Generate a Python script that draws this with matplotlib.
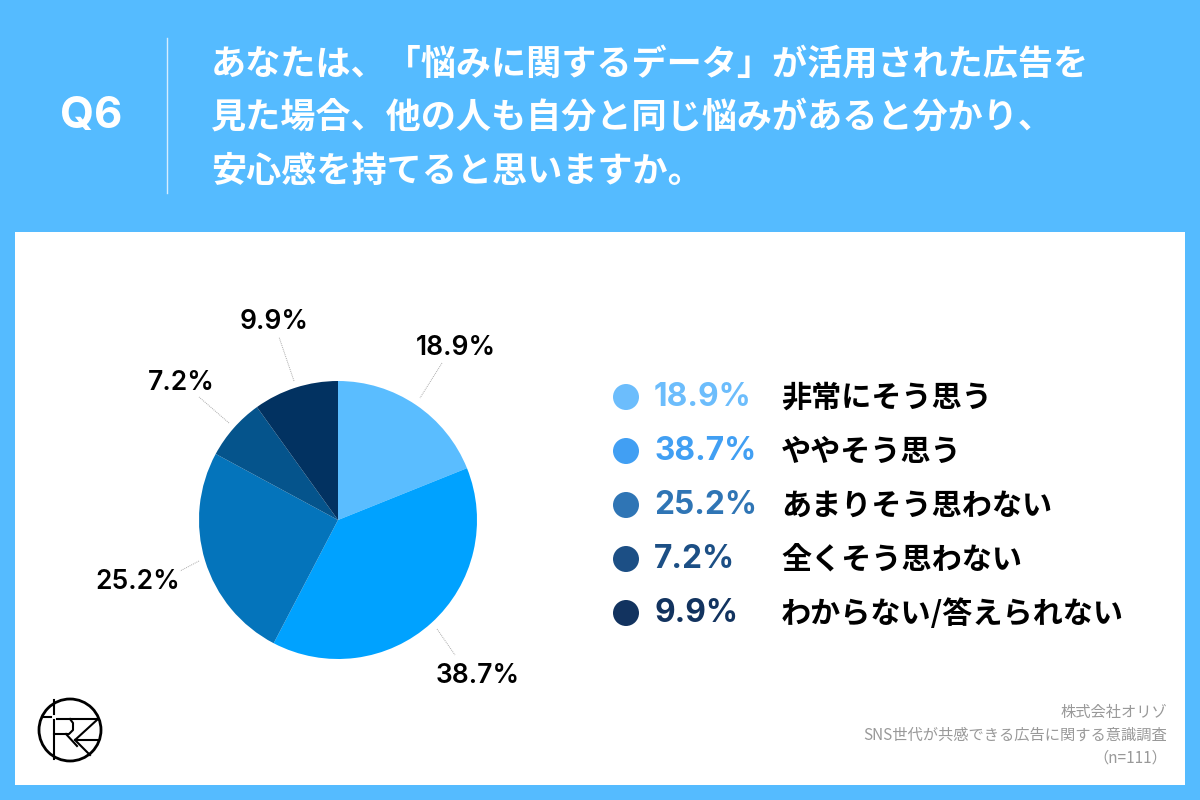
"""Q6 pie chart card: ad survey result with legend list and footer."""
import matplotlib
matplotlib.use("Agg")
import matplotlib.pyplot as plt
import matplotlib.patches as mpatches

CJK = ["Noto Sans CJK JP", "DejaVu Sans"]
H = 800

question_no = "Q6"
question_lines = [
    "あなたは、「悩みに関するデータ」が活用された広告を",
    "見た場合、他の人も自分と同じ悩みがあると分かり、",
    "安心感を持てると思いますか。",
]
categories = ["非常にそう思う", "ややそう思う", "あまりそう思わない", "全くそう思わない", "わからない/答えられない"]
values = [18.9, 38.7, 25.2, 7.2, 9.9]
footer_lines = ["株式会社オリゾ", "SNS世代が共感できる広告に関する意識調査", "（n=111）"]

BG = "#55BBFF"
pie_colors = ["#5ABDFF", "#00A2FF", "#0474BB", "#05548C", "#023261"]
legend_colors = ["#6CBDFC", "#419FF3", "#2F75B5", "#1C4F85", "#12335F"]

# label anchor (pixels) and leader start/end for each slice
label_pos = [(456, 348), (478, 676), (138, 582), (181, 383), (274, 322)]
leader_pos = [((442, 363), (420, 398)), ((437, 629), (455, 655)), ((199, 561), (180, 571)),
              ((229, 423), (199, 397)), ((294, 381), (279, 337))]


def py(y):
    return H - y


def main():
    fig = plt.figure(figsize=(12, 8), dpi=100, facecolor=BG)
    ax = fig.add_axes([0, 0, 1, 1])

    ax.add_patch(mpatches.Rectangle((15, py(785)), 1170, 553, facecolor="white", edgecolor="none"))

    # header
    ax.text(91, py(117), question_no, ha="center", va="center", color="white",
            fontsize=31.5, fontweight="bold", family=["Inter", "DejaVu Sans"])
    ax.plot([167, 167], [py(38), py(193)], color="#D5EEFF", lw=1)
    for line, y in zip(question_lines, [64, 117, 171]):
        ax.text(211, py(y), line, ha="left", va="center", color="white",
                fontsize=25.3, fontweight="bold", family=CJK)

    # pie, clockwise from 12 o'clock
    ax.pie(values, colors=pie_colors, startangle=90, counterclock=False,
           center=(338, py(520)), radius=139, frame=True,
           wedgeprops=dict(linewidth=0))
    for val, (lx, ly), (start, end) in zip(values, label_pos, leader_pos):
        ax.text(lx, py(ly), f"{val}%", ha="center", va="center", color="black",
                fontsize=19, fontweight="semibold", family=["Inter", "DejaVu Sans"])
        ax.plot([start[0], end[0]], [py(start[1]), py(end[1])], color="#AAAAAA", lw=0.7, ls=(0, (1, 1)))

    # legend list
    for i, (cat, val, col) in enumerate(zip(categories, values, legend_colors)):
        y = py(397 + i * 54)
        ax.add_patch(mpatches.Circle((626, y), 13, facecolor=col, edgecolor="none"))
        ax.text(654, y, f"{val}%", ha="left", va="center", color=col,
                fontsize=22.8, fontweight="bold", family=["Inter", "DejaVu Sans"])
        ax.text(781, y - 1, cat, ha="left", va="center", color="black",
                fontsize=21.7, fontweight="bold", family=CJK)

    # footer
    for line, y in zip(footer_lines, [712, 735, 758]):
        ax.text(1167, py(y), line, ha="right", va="center", color="#999999",
                fontsize=11, family=CJK)

    # logo mark
    ax.add_patch(mpatches.Circle((70, py(730)), 31, facecolor="white", edgecolor="black", lw=2))
    strokes = [
        [(54, 700), (54, 714)],
        [(54, 720), (54, 759)],
        [(42, 717), (51, 717)],
        [(57, 719), (98, 719)],
        [(70, 719), (73, 723), (73, 730), (69, 734), (54, 734)],
        [(66, 734), (77, 746)],
        [(98, 719), (75, 740), (99, 740)],
        [(75, 740), (90, 755)],
    ]
    for pts in strokes:
        ax.plot([p[0] for p in pts], [py(p[1]) for p in pts], color="black", lw=1.5)

    ax.set_xlim(0, 1200)
    ax.set_ylim(0, H)
    ax.set_aspect("equal")
    ax.set_axis_off()

    fig.savefig("out.png", dpi=100, facecolor=BG)


if __name__ == "__main__":
    main()
